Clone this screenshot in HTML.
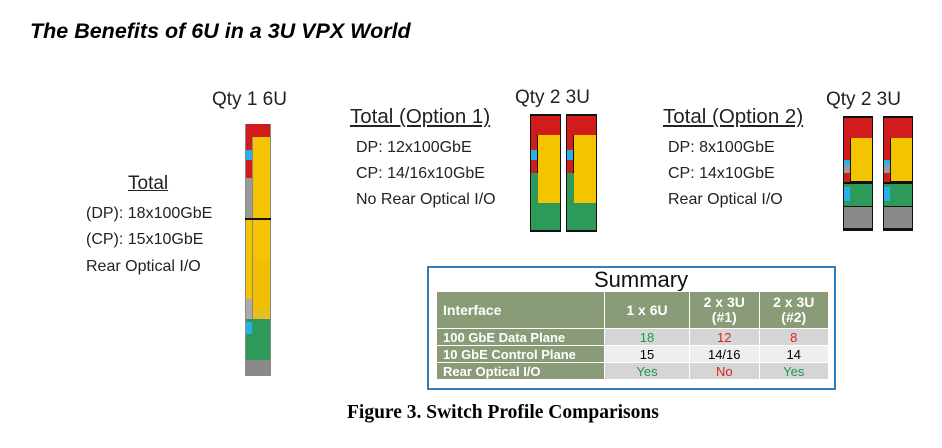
<!DOCTYPE html>
<html><head><style>
body{margin:0;width:942px;height:448px;background:#fff;position:relative;overflow:hidden;font-family:"Liberation Sans",sans-serif;}
.a{position:absolute;}
.t{position:absolute;white-space:nowrap;color:#222;}
table{border-collapse:collapse;}
td{padding:0 6px;height:16px;font-size:13px;border:1px solid #fff;}
</style></head><body>
<div class="t" style="left:30px;top:19px;font-size:21.5px;font-weight:bold;font-style:italic;color:#000">The Benefits of 6U in a 3U VPX World</div>

<div class="t" style="left:212px;top:89px;font-size:19px">Qty 1 6U</div>
<div class="t" style="left:128px;top:173px;font-size:19px;text-decoration:underline">Total</div>
<div class="t" style="left:86px;top:205px;font-size:16px">(DP): 18x100GbE</div>
<div class="t" style="left:86px;top:231px;font-size:16px">(CP): 15x10GbE</div>
<div class="t" style="left:86px;top:258px;font-size:16px">Rear Optical I/O</div>

<div class="a" style="left:245px;top:124px;width:26px;height:252px;background:#888;"></div>
<div class="a" style="left:246px;top:124px;width:24px;height:13px;background:#d21c1c;"></div>
<div class="a" style="left:246px;top:137px;width:6px;height:41px;background:#d21c1c;"></div>
<div class="a" style="left:246px;top:150px;width:6px;height:10px;background:#2ab0e8;"></div>
<div class="a" style="left:253px;top:137px;width:17px;height:122px;background:#f5c400;"></div>
<div class="a" style="left:246px;top:178px;width:6px;height:40px;background:#999;"></div>
<div class="a" style="left:245px;top:218px;width:26px;height:2px;background:#111;"></div>
<div class="a" style="left:246px;top:220px;width:6px;height:79px;background:#f5c400;"></div>
<div class="a" style="left:253px;top:259px;width:17px;height:50px;background:#f0c000;"></div>
<div class="a" style="left:246px;top:299px;width:6px;height:20px;background:#aaa;"></div>
<div class="a" style="left:253px;top:309px;width:17px;height:11px;background:#e6c020;"></div>
<div class="a" style="left:246px;top:319px;width:24px;height:41px;background:#2e9a5a;"></div>
<div class="a" style="left:246px;top:322px;width:6px;height:12px;background:#2ab0e8;"></div>
<div class="a" style="left:246px;top:360px;width:24px;height:15px;background:#8a8a8a;"></div>

<div class="t" style="left:350px;top:105px;font-size:20.5px;text-decoration:underline">Total (Option 1)</div>
<div class="t" style="left:515px;top:87px;font-size:19px">Qty 2 3U</div>
<div class="t" style="left:356px;top:139px;font-size:16px">DP: 12x100GbE</div>
<div class="t" style="left:356px;top:165px;font-size:16px">CP: 14/16x10GbE</div>
<div class="t" style="left:356px;top:191px;font-size:16px">No Rear Optical I/O</div>

<div class="a" style="left:530px;top:114px;width:31px;height:118px;background:#111;"></div>
<div class="a" style="left:531px;top:116px;width:29px;height:19px;background:#d21c1c;"></div>
<div class="a" style="left:531px;top:135px;width:6px;height:38px;background:#d21c1c;"></div>
<div class="a" style="left:531px;top:150px;width:6px;height:10px;background:#2ab0e8;"></div>
<div class="a" style="left:538px;top:135px;width:22px;height:60px;background:#f5c400;"></div>
<div class="a" style="left:531px;top:173px;width:29px;height:57px;background:#2e9a5a;"></div>
<div class="a" style="left:538px;top:173px;width:22px;height:30px;background:#f5c400;"></div>

<div class="a" style="left:566px;top:114px;width:31px;height:118px;background:#111;"></div>
<div class="a" style="left:567px;top:116px;width:29px;height:19px;background:#d21c1c;"></div>
<div class="a" style="left:567px;top:135px;width:6px;height:38px;background:#d21c1c;"></div>
<div class="a" style="left:567px;top:150px;width:6px;height:10px;background:#2ab0e8;"></div>
<div class="a" style="left:574px;top:135px;width:22px;height:60px;background:#f5c400;"></div>
<div class="a" style="left:567px;top:173px;width:29px;height:57px;background:#2e9a5a;"></div>
<div class="a" style="left:574px;top:173px;width:22px;height:30px;background:#f5c400;"></div>

<div class="t" style="left:663px;top:105px;font-size:20.5px;text-decoration:underline">Total (Option 2)</div>
<div class="t" style="left:826px;top:89px;font-size:19px">Qty 2 3U</div>
<div class="t" style="left:668px;top:139px;font-size:16px">DP: 8x100GbE</div>
<div class="t" style="left:668px;top:165px;font-size:16px">CP: 14x10GbE</div>
<div class="t" style="left:668px;top:191px;font-size:16px">Rear Optical I/O</div>

<div class="a" style="left:843px;top:116px;width:30px;height:115px;background:#111;"></div>
<div class="a" style="left:844px;top:118px;width:28px;height:20px;background:#d21c1c;"></div>
<div class="a" style="left:844px;top:138px;width:6px;height:44px;background:#d21c1c;"></div>
<div class="a" style="left:844px;top:160px;width:6px;height:10px;background:#2ab0e8;"></div>
<div class="a" style="left:844px;top:165px;width:6px;height:8px;background:#999;"></div>
<div class="a" style="left:851px;top:138px;width:21px;height:43px;background:#f5c400;"></div>
<div class="a" style="left:844px;top:184px;width:28px;height:22px;background:#2e9a5a;"></div>
<div class="a" style="left:844px;top:187px;width:6px;height:14px;background:#2ab0e8;"></div>
<div class="a" style="left:844px;top:207px;width:28px;height:21px;background:#8a8a8a;"></div>

<div class="a" style="left:883px;top:116px;width:30px;height:115px;background:#111;"></div>
<div class="a" style="left:884px;top:118px;width:28px;height:20px;background:#d21c1c;"></div>
<div class="a" style="left:884px;top:138px;width:6px;height:44px;background:#d21c1c;"></div>
<div class="a" style="left:884px;top:160px;width:6px;height:10px;background:#2ab0e8;"></div>
<div class="a" style="left:884px;top:165px;width:6px;height:8px;background:#999;"></div>
<div class="a" style="left:891px;top:138px;width:21px;height:43px;background:#f5c400;"></div>
<div class="a" style="left:884px;top:184px;width:28px;height:22px;background:#2e9a5a;"></div>
<div class="a" style="left:884px;top:187px;width:6px;height:14px;background:#2ab0e8;"></div>
<div class="a" style="left:884px;top:207px;width:28px;height:21px;background:#8a8a8a;"></div>

<div class="a" style="left:427px;top:266px;width:405px;height:120px;border:2px solid #2f7fc0;"></div>
<div class="t" style="left:594px;top:267px;font-size:22px;color:#111">Summary</div>
<table class="a" style="left:436px;top:291px;width:393px;">
<tr style="background:#8a9b78;color:#fff;font-weight:bold">
<td style="height:36px;width:155px;font-size:14px">Interface</td>
<td style="text-align:center;font-size:14px;width:72px">1 x 6U</td>
<td style="text-align:center;font-size:14px;line-height:15px">2 x 3U<br>(#1)</td>
<td style="text-align:center;font-size:14px;line-height:15px">2 x 3U<br>(#2)</td></tr>
<tr style="background:#d5d5d5"><td style="background:#8a9b78;color:#fff;font-weight:bold">100 GbE Data Plane</td><td style="text-align:center;color:#1e9a4a">18</td><td style="text-align:center;color:#d22">12</td><td style="text-align:center;color:#d22">8</td></tr>
<tr style="background:#eee"><td style="background:#8a9b78;color:#fff;font-weight:bold">10 GbE Control Plane</td><td style="text-align:center">15</td><td style="text-align:center">14/16</td><td style="text-align:center">14</td></tr>
<tr style="background:#d5d5d5"><td style="background:#8a9b78;color:#fff;font-weight:bold">Rear Optical I/O</td><td style="text-align:center;color:#1e9a4a">Yes</td><td style="text-align:center;color:#d22">No</td><td style="text-align:center;color:#1e9a4a">Yes</td></tr>
</table>

<div class="t" style="left:347px;top:402px;font-size:19.5px;font-weight:bold;font-family:'Liberation Serif',serif;color:#000">Figure 3. Switch Profile Comparisons</div>
</body></html>
